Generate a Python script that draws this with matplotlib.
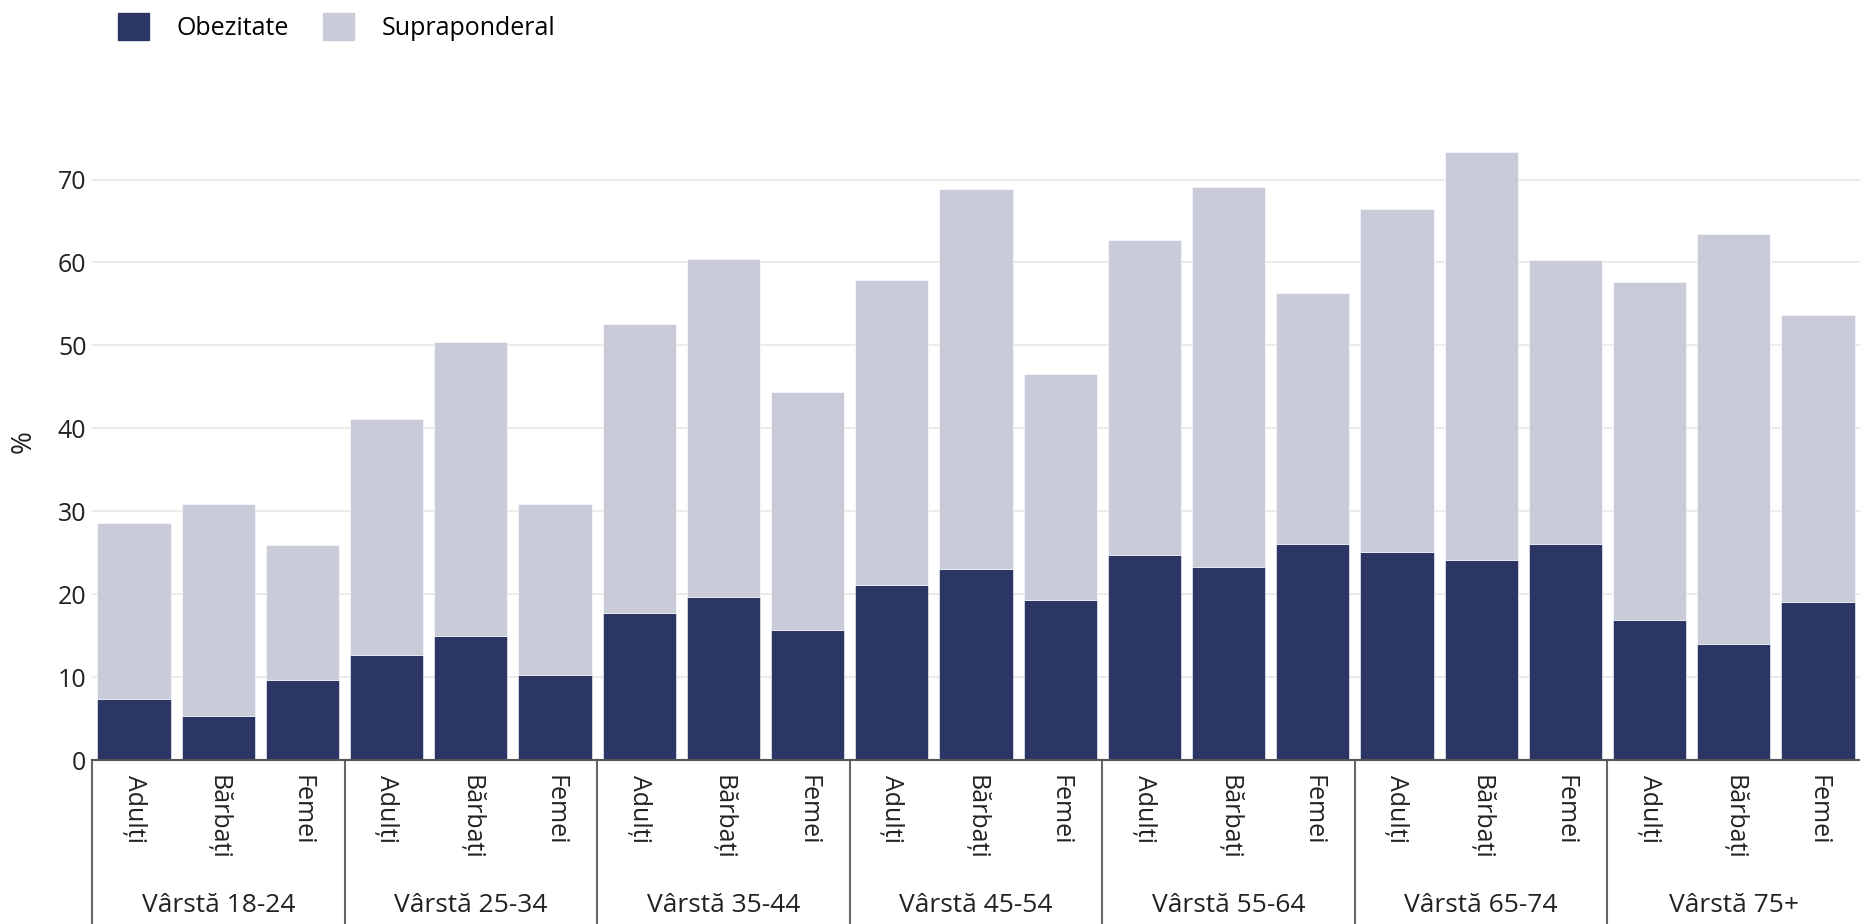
import matplotlib
matplotlib.use("Agg")
import matplotlib.pyplot as plt
import matplotlib.transforms as mtransforms
from matplotlib.patches import Patch
import numpy as np

plt.rcParams['font.family'] = ['Open Sans', 'DejaVu Sans']

# Date
grupe = ['Vârstă 18-24', 'Vârstă 25-34', 'Vârstă 35-44', 'Vârstă 45-54',
         'Vârstă 55-64', 'Vârstă 65-74', 'Vârstă 75+']
subgrupe = ['Adulți', 'Bărbați', 'Femei']
obezitate = [7.3, 5.3, 9.6, 12.7, 15.0, 10.3, 17.7, 19.7, 15.7, 21.1, 23.0, 19.3,
             24.7, 23.3, 26.1, 25.1, 24.1, 26.0, 16.9, 14.0, 19.0]
supraponderal = [21.3, 25.6, 16.3, 28.4, 35.4, 20.6, 34.9, 40.7, 28.7, 36.8, 45.9, 27.3,
                 38.0, 45.8, 30.2, 41.3, 49.2, 34.3, 40.8, 49.4, 34.7]

c_obez = '#2B3664'
c_supra = '#C9CCD8'
fs = 18

fig = plt.figure(figsize=(18.6, 9.24), dpi=100)
ax = fig.add_axes([92 / 1860, 1 - 760 / 924, 1 - 92 / 1860, (760 - 80) / 924])

x = np.arange(len(obezitate))
ax.bar(x, obezitate, width=0.87, color=c_obez, edgecolor='white', linewidth=0.4, zorder=2)
ax.bar(x, supraponderal, bottom=obezitate, width=0.87, color=c_supra,
       edgecolor='white', linewidth=0.4, zorder=2)

ax.set_xlim(-0.5, len(x) - 0.5)
ax.set_ylim(0, 82)
ax.set_yticks(range(0, 80, 10))
ax.yaxis.grid(True, color='#EBEBEB', linewidth=1.5, zorder=0)
ax.tick_params(axis='y', length=0, pad=4, labelsize=fs, labelcolor='#222222')
ax.set_xticks([])
for s in ['top', 'right', 'left']:
    ax.spines[s].set_visible(False)
ax.spines['bottom'].set_color('#555555')
ax.spines['bottom'].set_linewidth(1.5)
ax.spines['bottom'].set_zorder(3)

ax.set_ylabel('%', fontsize=20, color='#222222')
ax.yaxis.set_label_coords(-0.031, (760 - 442) / 680)

# etichete pe doua niveluri
trans = mtransforms.blended_transform_factory(ax.transData, fig.transFigure)
for i in range(len(x)):
    ax.text(x[i], 1 - 775 / 924, subgrupe[i % 3], transform=trans, rotation=270,
            ha='center', va='top', fontsize=fs, color='#222222')
for g, nume in enumerate(grupe):
    ax.text(g * 3 + 1, 1 - 906 / 924, nume, transform=trans, ha='center', va='center',
            fontsize=19, color='#222222')
    ax.plot([g * 3 - 0.5, g * 3 - 0.5], [1 - 760 / 924, 0], transform=trans,
            color='#666666', linewidth=1.5, clip_on=False)

handles = [Patch(color=c_obez, label='Obezitate'), Patch(color=c_supra, label='Supraponderal')]
fig.legend(handles=handles, loc='center left', bbox_to_anchor=(118 / 1860, 1 - 27 / 924), ncol=2,
           frameon=False, fontsize=fs, handlelength=1.24, handleheight=1.24,
           handletextpad=1.08, columnspacing=1.4, borderaxespad=0, borderpad=0)

fig.savefig('out.png', dpi=100)
